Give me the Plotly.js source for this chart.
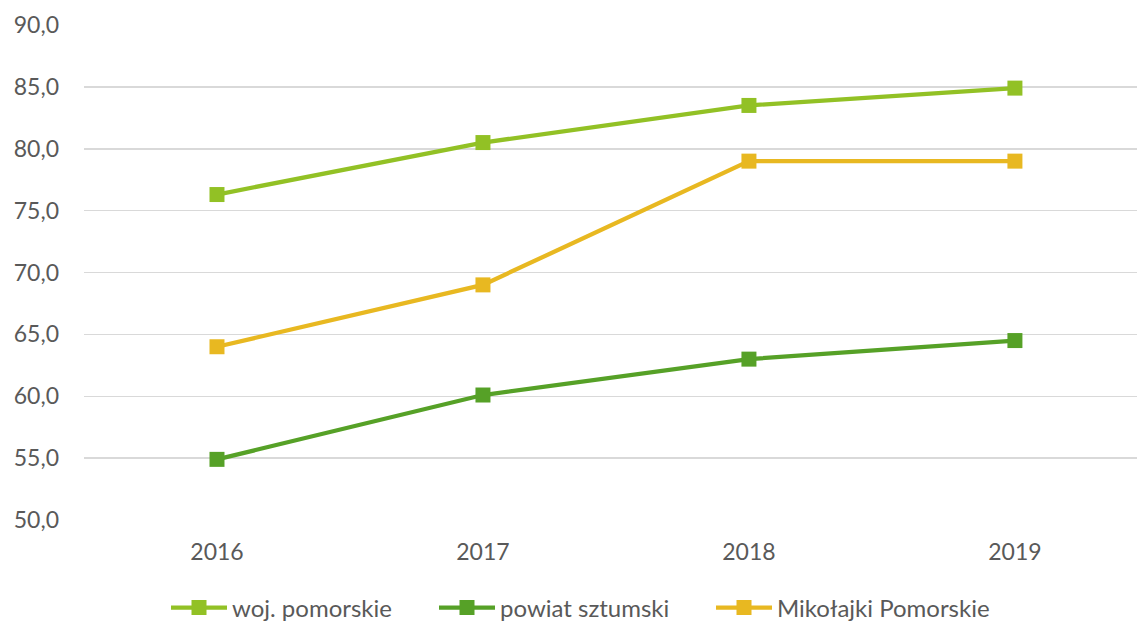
<!DOCTYPE html>
<html>
<head>
<meta charset="utf-8">
<script src="https://cdn.plot.ly/plotly-3.0.1.min.js"></script>
<style>html,body{margin:0;padding:0;background:#fff;}#chart{width:1137px;height:622px;}</style>
</head>
<body>
<div id="chart"></div>
<script>
const years = ["2016", "2017", "2018", "2019"];
const wojPomorskie = [76.3, 80.5, 83.5, 84.9];
const powiatSztumski = [54.9, 60.1, 63.0, 64.5];
const mikolajki = [64.0, 69.0, 79.0, 79.0];
const seriesNames = ["woj. pomorskie", "powiat sztumski", "Mikołajki Pomorskie"];
const colors = ["#92C125", "#56A127", "#E8B821"];

function trace(y, name, color, legendId) {
  return {
    x: years, y: y, name: name, type: "scatter", mode: "lines+markers",
    line: {color: color, width: 4.3},
    marker: {symbol: "square", size: 15, color: color},
    legend: legendId,
    hoverinfo: "x+y+name"
  };
}

const data = [
  trace(wojPomorskie, seriesNames[0], colors[0], "legend"),
  trace(powiatSztumski, seriesNames[1], colors[1], "legend2"),
  trace(mikolajki, seriesNames[2], colors[2], "legend3")
];

function leg(xpx) {
  return {
    orientation: "h", x: (xpx - 84) / 1053, xanchor: "left",
    y: -88 / 495, yanchor: "middle",
    font: {size: 24, color: "#595959"}, itemwidth: 56,
    bgcolor: "rgba(0,0,0,0)", borderwidth: 0
  };
}

const layout = {
  width: 1137, height: 622,
  margin: {l: 84, r: 0, t: 25, b: 102, autoexpand: false},
  paper_bgcolor: "#ffffff", plot_bgcolor: "#ffffff",
  separators: ", ",
  font: {family: "Lato, 'Open Sans', sans-serif", size: 23, color: "#595959"},
  xaxis: {
    type: "category", range: [-0.5, 3.459],
    showgrid: false, zeroline: false, showline: false,
    ticks: "", tickfont: {size: 23, color: "#595959"}, ticklabelstandoff: 16
  },
  yaxis: {
    range: [50, 90], dtick: 5, tick0: 50, tickformat: ".1f",
    showgrid: true, gridcolor: "#D9D9D9", gridwidth: 1.5,
    zeroline: false, showline: false, ticks: "",
    tickfont: {size: 23, color: "#595959"}, ticklabelstandoff: 24
  },
  showlegend: true,
  legend: leg(166),
  legend2: leg(434),
  legend3: leg(711)
};

Plotly.newPlot("chart", data, layout, {displayModeBar: false, staticPlot: true});
</script>
</body>
</html>
